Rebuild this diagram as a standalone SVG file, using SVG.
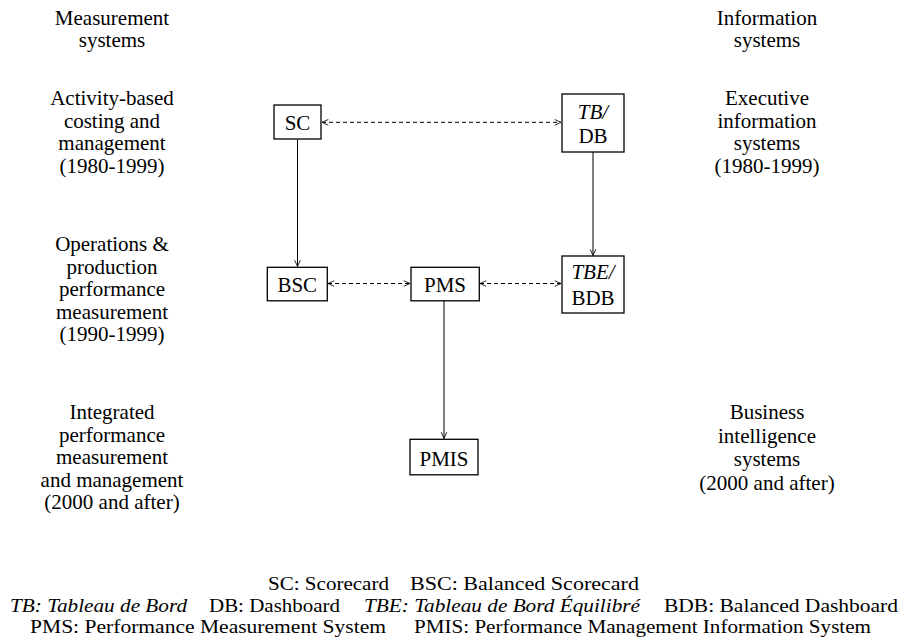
<svg xmlns="http://www.w3.org/2000/svg" width="901" height="641" viewBox="0 0 901 641" font-family="'Liberation Serif', 'Times New Roman', serif">
<style>
text{font-size:21px;fill:#000;text-anchor:middle}
.it{font-style:italic}
.st{text-anchor:start}
#legend text{font-size:19.5px}
rect{fill:#fff;stroke:#000;stroke-width:1.3}
.solid{stroke:#000;stroke-width:1;fill:none}
.dash{stroke:#000;stroke-width:1;fill:none;stroke-dasharray:4 3}
</style>
<defs>
<marker id="ah" viewBox="0 0 10 10" refX="10" refY="5" markerWidth="7" markerHeight="7" orient="auto-start-reverse" markerUnits="userSpaceOnUse">
<path d="M1,1 L10,5 L1,9" fill="none" stroke="#000" stroke-width="1.2"/>
</marker>
</defs>
<rect width="901" height="641" style="fill:#fff;stroke:none"/>
<g id="labels">
<text x="112" y="25">Measurement</text>
<text x="112" y="47">systems</text>
<text x="112" y="105">Activity-based</text>
<text x="112" y="127.5">costing and</text>
<text x="112" y="150">management</text>
<text x="112" y="172.5">(1980-1999)</text>
<text x="112" y="251">Operations &amp;</text>
<text x="112" y="273.5">production</text>
<text x="112" y="296">performance</text>
<text x="112" y="318.5">measurement</text>
<text x="112" y="341">(1990-1999)</text>
<text x="112" y="419">Integrated</text>
<text x="112" y="441.5">performance</text>
<text x="112" y="464">measurement</text>
<text x="112" y="486.5">and management</text>
<text x="112" y="509">(2000 and after)</text>
<text x="767" y="25">Information</text>
<text x="767" y="47">systems</text>
<text x="767" y="105">Executive</text>
<text x="767" y="127.5">information</text>
<text x="767" y="150">systems</text>
<text x="767" y="172.5">(1980-1999)</text>
<text x="767" y="419">Business</text>
<text x="767" y="442.5">intelligence</text>
<text x="767" y="466">systems</text>
<text x="767" y="489.5">(2000 and after)</text>
</g>
<g id="connectors">
<line class="solid" x1="297.5" y1="139.5" x2="297.5" y2="266.5" marker-end="url(#ah)"/>
<line class="solid" x1="593" y1="152" x2="593" y2="255.5" marker-end="url(#ah)"/>
<line class="solid" x1="444" y1="301" x2="444" y2="438.5" marker-end="url(#ah)"/>
<line class="dash" x1="322" y1="122.3" x2="561" y2="122.3" marker-start="url(#ah)" marker-end="url(#ah)"/>
<line class="dash" x1="328" y1="283.5" x2="410" y2="283.5" marker-start="url(#ah)" marker-end="url(#ah)"/>
<line class="dash" x1="480" y1="283.5" x2="561" y2="283.5" marker-start="url(#ah)" marker-end="url(#ah)"/>
</g>
<g id="node-sc"><rect x="274" y="105" width="47" height="34"/><text x="297.5" y="130">SC</text></g>
<g id="node-tbdb"><rect x="562" y="94" width="62" height="58"/><text class="it" x="593" y="119">TB/</text><text x="593" y="143">DB</text></g>
<g id="node-bsc"><rect x="267.3" y="267.3" width="60" height="33.5"/><text x="297.3" y="292">BSC</text></g>
<g id="node-pms"><rect x="411" y="267.3" width="68.3" height="33.5"/><text x="445" y="292">PMS</text></g>
<g id="node-tbebdb"><rect x="562" y="256" width="62" height="57"/><text class="it" x="593" y="279">TBE/</text><text x="593" y="305">BDB</text></g>
<g id="node-pmis"><rect x="410" y="439.3" width="68" height="35.5"/><text x="444" y="466">PMIS</text></g>
<g id="legend">
<text class="st" x="268" y="590" textLength="121" lengthAdjust="spacingAndGlyphs">SC: Scorecard</text>
<text class="st" x="410" y="590" textLength="229" lengthAdjust="spacingAndGlyphs">BSC: Balanced Scorecard</text>
<text class="st it" x="10" y="611.5" textLength="177" lengthAdjust="spacingAndGlyphs">TB: Tableau de Bord</text>
<text class="st" x="209" y="611.5" textLength="131" lengthAdjust="spacingAndGlyphs">DB: Dashboard</text>
<text class="st it" x="364" y="611.5" textLength="276" lengthAdjust="spacingAndGlyphs">TBE: Tableau de Bord Équilibré</text>
<text class="st" x="664" y="611.5" textLength="234" lengthAdjust="spacingAndGlyphs">BDB: Balanced Dashboard</text>
<text class="st" x="30" y="633" textLength="356" lengthAdjust="spacingAndGlyphs">PMS: Performance Measurement System</text>
<text class="st" x="414" y="633" textLength="457" lengthAdjust="spacingAndGlyphs">PMIS: Performance Management Information System</text>
</g>
</svg>
